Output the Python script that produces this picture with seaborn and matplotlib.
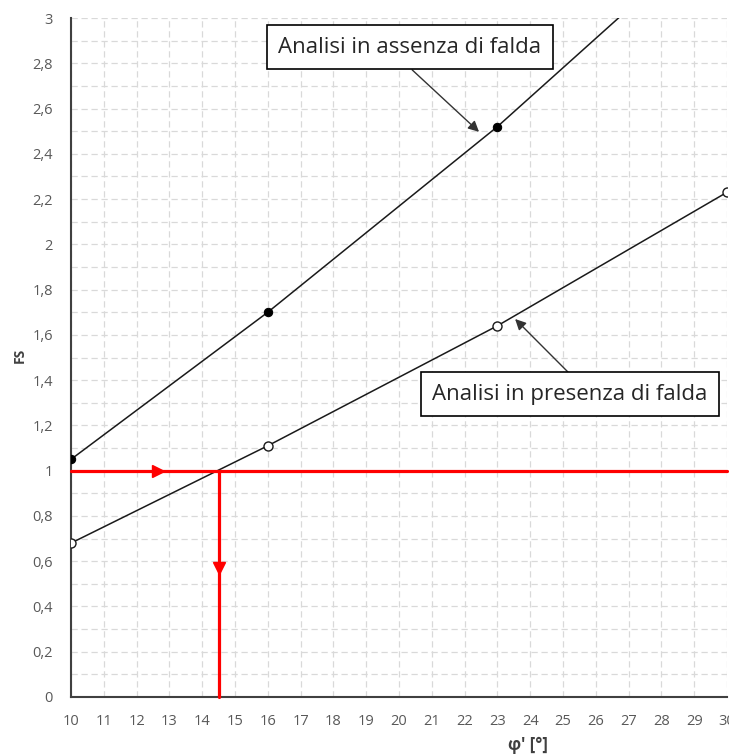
import matplotlib
matplotlib.use("Agg")
import matplotlib.pyplot as plt
import seaborn as sns
import pandas as pd
import numpy as np

# data
phi = [10, 16, 23, 30]
fs_assenza = [1.05, 1.70, 2.52, 3.43]
fs_presenza = [0.68, 1.11, 1.64, 2.23]
fs_target = 1.0
phi_critico = 14.5

df = pd.DataFrame({"phi": phi * 2,
                   "FS": fs_assenza + fs_presenza,
                   "caso": ["assenza"] * 4 + ["presenza"] * 4})

sns.set_style("white")
plt.rcParams['font.family'] = ['Open Sans', 'DejaVu Sans']

fig = plt.figure(figsize=(7.29, 7.54), dpi=100)
ax = fig.add_axes([71 / 729, 57 / 754, 656 / 729, 679 / 754])

# grid
for x in range(10, 31):
    ax.axvline(x, color="#d9d9d9", lw=0.9, ls=(0, (5, 3)), zorder=0)
for y in np.arange(0.1, 3.01, 0.1):
    ax.axhline(y, color="#d9d9d9", lw=0.9, ls=(0, (5, 3)), zorder=0)

sns.lineplot(data=df[df.caso == "assenza"], x="phi", y="FS", color="#1a1a1a",
             lw=1.1, marker="o", markersize=6, markerfacecolor="black",
             markeredgecolor="black", ax=ax, zorder=3)
sns.lineplot(data=df[df.caso == "presenza"], x="phi", y="FS", color="#1a1a1a",
             lw=1.1, marker="o", markersize=6.5, markerfacecolor="white",
             markeredgecolor="#1a1a1a", markeredgewidth=1.0, ax=ax, zorder=3)

# red construction lines
ax.plot([10, 30], [fs_target, fs_target], color="#ff0000", lw=2.3, zorder=4,
        clip_on=False)
ax.plot([phi_critico, phi_critico], [fs_target, 0], color="#ff0000", lw=2.3,
        zorder=4, clip_on=False)
ax.plot([12.65], [fs_target], marker=">", color="#ff0000", markersize=8, zorder=5)
ax.plot([phi_critico], [0.57], marker="v", color="#ff0000", markersize=8, zorder=5)

ax.set_xlim(10, 30)
ax.set_ylim(0, 3)
ax.set_xticks(range(10, 31))
ax.set_yticks(np.arange(0, 3.01, 0.2))
ax.set_yticklabels([("%.1f" % v).replace(".", ",").replace(",0", "")
                    for v in np.arange(0, 3.01, 0.2)])
ax.tick_params(axis="both", length=0, labelsize=10.5, labelcolor="#595959")
ax.tick_params(axis="y", pad=13)
ax.tick_params(axis="x", pad=12)

for s in ["top", "right"]:
    ax.spines[s].set_visible(False)
for s in ["left", "bottom"]:
    ax.spines[s].set_color("#404040")
    ax.spines[s].set_linewidth(1.5)

ax.set_xlabel("")
ax.set_ylabel("")
fig.text(20 / 729, 1 - 355 / 754, "FS", rotation=90, ha="center", va="center",
         fontsize=10, color="#404040", fontweight="bold")
fig.text(528 / 729, 1 - 745 / 754, "φ' [°]", ha="center", va="center",
         fontsize=12, color="#404040", fontweight="bold")

# callouts
box = dict(boxstyle="square,pad=0.52", fc="white", ec="black", lw=1.2)
arrow = dict(arrowstyle="-|>", color="#333333", lw=1.0, mutation_scale=16,
             shrinkA=0, shrinkB=0)
ax.annotate("", xy=(22.44, 2.497), xytext=(20.40, 2.771), arrowprops=arrow,
            zorder=5)
ax.text(20.33, 2.87, "Analisi in assenza di falda", fontsize=16, ha="center",
        va="center", bbox=box, zorder=6)
ax.annotate("", xy=(23.54, 1.67), xytext=(25.15, 1.436), arrowprops=arrow,
            zorder=5)
ax.text(25.21, 1.337, "Analisi in presenza di falda", fontsize=16, ha="center",
        va="center", bbox=box, zorder=6)

fig.savefig("out.png", dpi=100)
